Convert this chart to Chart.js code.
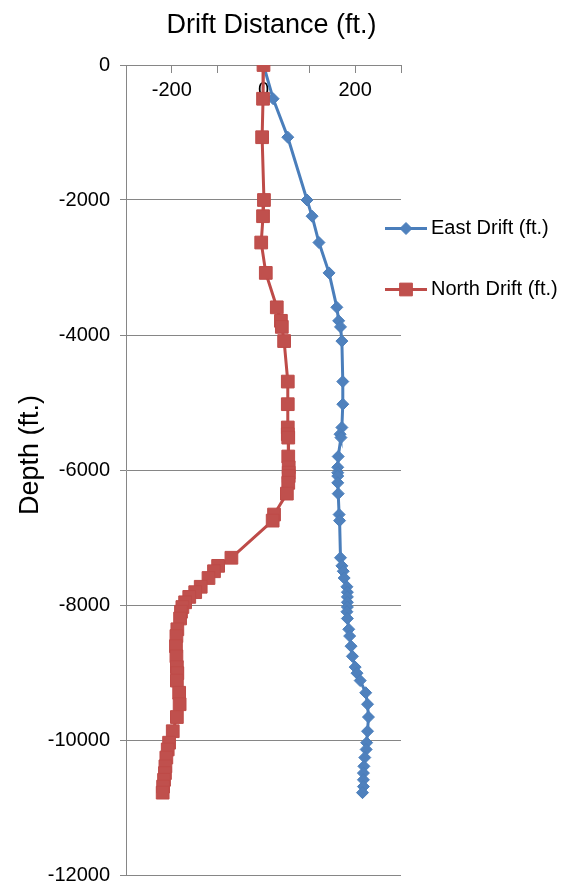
<!DOCTYPE html>
<html>
<head>
<meta charset="utf-8">
<script src="https://cdn.jsdelivr.net/npm/chart.js@4.4.1/dist/chart.umd.min.js"></script>
<style>
  html, body { margin: 0; padding: 0; background: #ffffff; }
  canvas { display: block; }
</style>
</head>
<body>
<canvas id="driftChart" width="563" height="885"></canvas>
<script>
// Survey stations (measured depth, ft) and horizontal drift at each station (ft)
const depthFt = [0, -500, -1070, -2000, -2240, -2630, -3080, -3590, -3790, -3880,
  -4090, -4690, -5025, -5370, -5470, -5520, -5800, -5960, -6040, -6090,
  -6190, -6350, -6660, -6750, -7300, -7420, -7500, -7600, -7730, -7810,
  -7880, -7960, -8030, -8100, -8200, -8360, -8460, -8610, -8760, -8920,
  -9010, -9120, -9300, -9470, -9660, -9870, -10040, -10140, -10260, -10390,
  -10490, -10590, -10690, -10780];

const eastDrift = [0, 21, 53, 95, 106, 121, 143, 160, 164, 168,
  171, 173, 173, 171, 167, 169, 163, 162, 162, 162,
  162, 163, 165, 166, 168, 171, 174, 176, 182, 183,
  183, 183, 183, 182, 183, 186, 188, 191, 194, 200,
  204, 211, 223, 227, 229, 227, 225, 224, 221, 219,
  218, 218, 218, 216];

const northDrift = [0, -1, -3, 1, -1, -5, 5, 29, 38, 40,
  45, 53, 53, 53, 53, 54, 54, 55, 55, 55,
  54, 51, 23, 20, -70, -99, -108, -120, -137, -149,
  -162, -171, -177, -180, -182, -188, -190, -191, -190, -189,
  -188, -189, -184, -183, -189, -198, -206, -209, -212, -214,
  -215, -217, -219, -220];

const seriesNames = ['East Drift (ft.)', 'North Drift (ft.)'];
const xLabelValues = [-200, 0, 200];
const xTitle = 'Drift Distance (ft.)';
const yTitle = 'Depth (ft.)';

const FONT = "'Liberation Sans', Arial, sans-serif";
const GRID = '#868686';
const BLUE_LINE = '#4A7EBB', BLUE_FILL = '#4F81BD';
const RED_LINE = '#BE4B48', RED_FILL = '#C0504D';

function pairUp(xs) {
  return xs.map((v, i) => ({ x: v, y: depthFt[i] }));
}

function markerPath(ctx, style, x, y, r) {
  ctx.beginPath();
  if (style === 'rectRot') {
    ctx.moveTo(x - r, y); ctx.lineTo(x, y - r); ctx.lineTo(x + r, y); ctx.lineTo(x, y + r);
  } else {
    const h = Math.SQRT1_2 * r;
    ctx.rect(x - h, y - h, 2 * h, 2 * h);
  }
  ctx.closePath();
}

// Axis titles and the side legend, laid out against the plot area
const decorations = {
  id: 'decorations',
  afterDraw(chart) {
    const { ctx, chartArea } = chart;
    ctx.save();
    ctx.fillStyle = '#000';
    ctx.textBaseline = 'middle';

    ctx.font = `27px ${FONT}`;
    ctx.textAlign = 'center';
    ctx.fillText(xTitle, (chartArea.left + chartArea.right) / 2 + 8, 26);

    ctx.save();
    ctx.translate(31, 455);
    ctx.rotate(-Math.PI / 2);
    ctx.fillText(yTitle, 0, 0);
    ctx.restore();

    ctx.font = `20px ${FONT}`;
    ctx.textAlign = 'left';
    const rowsY = [228.5, 289.5];
    chart.data.datasets.forEach((ds, i) => {
      const y = rowsY[i];
      const x0 = chartArea.right - 16, x1 = chartArea.right + 26;
      ctx.strokeStyle = ds.borderColor;
      ctx.lineWidth = ds.borderWidth;
      ctx.beginPath(); ctx.moveTo(x0, y); ctx.lineTo(x1, y); ctx.stroke();
      markerPath(ctx, ds.pointStyle, (x0 + x1) / 2, y, ds.pointRadius);
      ctx.fillStyle = ds.pointBackgroundColor; ctx.fill();
      ctx.lineWidth = ds.pointBorderWidth; ctx.strokeStyle = ds.pointBorderColor; ctx.stroke();
      ctx.fillStyle = '#000';
      ctx.fillText(ds.label, x1 + 4, y);
    });
    ctx.restore();
  }
};

new Chart(document.getElementById('driftChart'), {
  type: 'scatter',
  data: {
    datasets: [
      {
        label: seriesNames[0],
        data: pairUp(eastDrift),
        showLine: true,
        borderColor: BLUE_LINE,
        borderWidth: 3,
        pointStyle: 'rectRot',
        pointRadius: 6,
        pointBackgroundColor: BLUE_FILL,
        pointBorderColor: BLUE_LINE,
        pointBorderWidth: 1,
        order: 1
      },
      {
        label: seriesNames[1],
        data: pairUp(northDrift),
        showLine: true,
        borderColor: RED_LINE,
        borderWidth: 3,
        pointStyle: 'rect',
        pointRadius: 9,
        pointBackgroundColor: RED_FILL,
        pointBorderColor: RED_LINE,
        pointBorderWidth: 1,
        order: 0
      }
    ]
  },
  options: {
    responsive: false,
    animation: false,
    devicePixelRatio: 1,
    layout: { padding: { left: 0, right: 162, top: 65, bottom: 6 } },
    plugins: {
      legend: { display: false },
      title: { display: false },
      tooltip: { enabled: false }
    },
    scales: {
      x: {
        type: 'linear',
        position: { y: 0 },
        min: -300,
        max: 300,
        ticks: {
          stepSize: 100,
          autoSkip: false,
          maxRotation: 0,
          padding: 6,
          color: '#000',
          font: { family: FONT, size: 20, lineHeight: 1.2 },
          callback: (v) => (xLabelValues.includes(v) ? String(v) : '')
        },
        grid: { drawOnChartArea: false, drawTicks: true, tickLength: 7, color: GRID },
        border: { display: true, color: GRID, width: 1 }
      },
      y: {
        type: 'linear',
        position: 'left',
        min: -12000,
        max: 0,
        afterFit: (scale) => {
          scale.width = 126;
          scale.paddingTop = 6;
          scale.paddingBottom = 6;
        },
        ticks: {
          stepSize: 2000,
          padding: 10,
          color: '#000',
          font: { family: FONT, size: 20 },
          callback: (v) => String(v)
        },
        grid: { color: GRID, lineWidth: 1, tickLength: 6 },
        border: { display: true, color: GRID, width: 1 }
      }
    }
  },
  plugins: [decorations]
});
</script>
</body>
</html>
